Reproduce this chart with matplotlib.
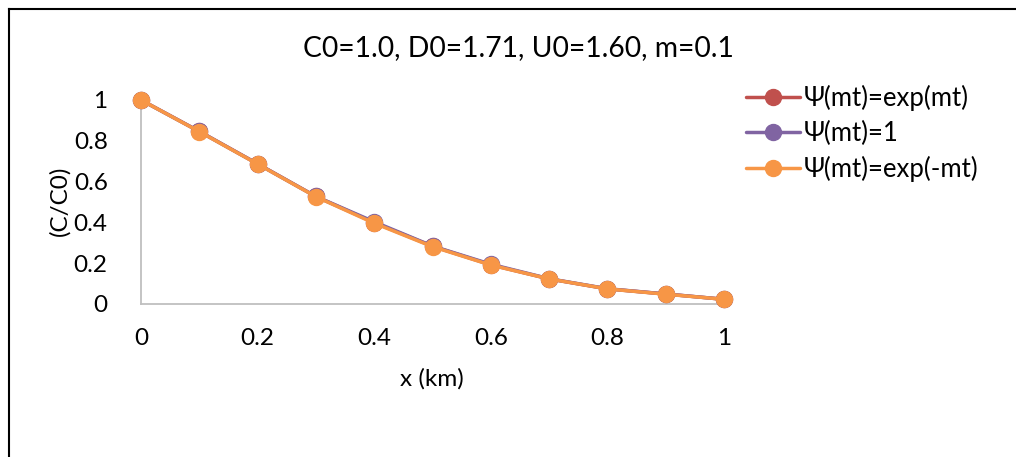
import matplotlib
matplotlib.use("Agg")
import matplotlib.pyplot as plt
from matplotlib.lines import Line2D

plt.rcParams['font.family'] = ['Lato', 'DejaVu Sans']

x_km = [0.0, 0.1, 0.2, 0.3, 0.4, 0.5, 0.6, 0.7, 0.8, 0.9, 1.0]
psi_exp_pos = [1.0, 0.846, 0.687, 0.527, 0.399, 0.283, 0.192, 0.123, 0.074, 0.049, 0.023]
psi_one = [1.0, 0.846, 0.687, 0.527, 0.403, 0.284, 0.195, 0.124, 0.075, 0.049, 0.023]
psi_exp_neg = [1.0, 0.845, 0.686, 0.526, 0.396, 0.281, 0.191, 0.123, 0.074, 0.048, 0.023]

series_names = ['Ψ(mt)=exp(mt)', 'Ψ(mt)=1', 'Ψ(mt)=exp(-mt)']
series_colors = ['#C0504D', '#8064A2', '#F79646']
x_ticks = [0, 0.2, 0.4, 0.6, 0.8, 1]
x_tick_labels = ['0', '0.2', '0.4', '0.6', '0.8', '1']
y_ticks = [0, 0.2, 0.4, 0.6, 0.8, 1]
y_tick_labels = ['0', '0.2', '0.4', '0.6', '0.8', '1']
title = 'C0=1.0, D0=1.71, U0=1.60, m=0.1'

W, H = 1016, 457
fig = plt.figure(figsize=(W / 100, H / 100), dpi=100)

# axes placement in pixels
x0, x1 = 141, 724
y0, y1 = 304, 100
ax = fig.add_axes([x0 / W, 1 - y0 / H, (x1 - x0) / W, (y0 - y1) / H])

for vals, name, col in zip([psi_exp_pos, psi_one, psi_exp_neg], series_names, series_colors):
    ax.plot(x_km, vals, color=col, lw=2.5, marker='o', markersize=11.5,
            label=name, clip_on=False, solid_capstyle='round')

ax.set_xlim(0, 1)
ax.set_ylim(0, 1)
ax.set_xticks(x_ticks)
ax.set_xticklabels(x_tick_labels)
ax.set_yticks(y_ticks)
ax.set_yticklabels(y_tick_labels)
ax.tick_params(axis='both', length=0, labelsize=17.5, colors='black')
ax.tick_params(axis='x', pad=17)
ax.tick_params(axis='y', pad=24)
for s in ['top', 'right']:
    ax.spines[s].set_visible(False)
for s in ['left', 'bottom']:
    ax.spines[s].set_color('#BFBFBF')
    ax.spines[s].set_linewidth(1.3)
    ax.spines[s].set_zorder(0)

fig.text(518 / W, 1 - 48 / H, title, ha='center', va='center', fontsize=20.3)
fig.text(432 / W, 1 - 379 / H, 'x (km)', ha='center', va='center', fontsize=17.5)
fig.text(60 / W, 1 - 201 / H, '(C/C0)', ha='center', va='center', fontsize=17.5, rotation=90)

leg = fig.legend(loc='upper left', bbox_to_anchor=(746 / W, 1 - 85 / H),
                 frameon=False, fontsize=18.5, handlelength=2.1, handletextpad=0.15,
                 labelspacing=0.38, borderpad=0, borderaxespad=0)

# outer chart border (left and top visible)
fig.add_artist(Line2D([8.5 / W, 8.5 / W], [0, 1 - 8.5 / H], transform=fig.transFigure,
                      color='black', lw=1.5))
fig.add_artist(Line2D([8.5 / W, 1], [1 - 8.5 / H, 1 - 8.5 / H], transform=fig.transFigure,
                      color='black', lw=1.5))

fig.savefig('out.png', dpi=100)
